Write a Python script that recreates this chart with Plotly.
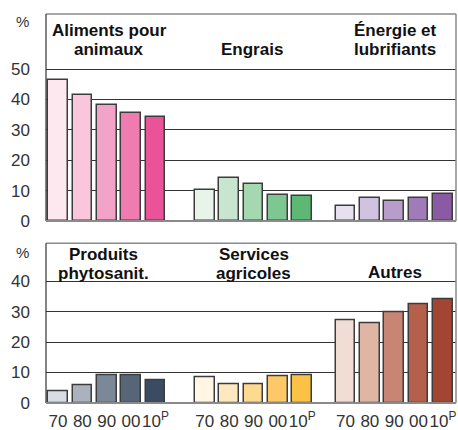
import plotly.graph_objects as go

years = ["70", "80", "90", "00", "10<sup>P</sup>"]

top_groups = [["Aliments pour", "animaux"], ["Engrais"], ["Énergie et", "lubrifiants"]]
aliments = [46.3, 41.6, 38.0, 35.4, 34.2]
engrais = [10.3, 14.3, 12.3, 8.4, 8.1]
energie = [5.1, 7.5, 6.5, 7.5, 8.8]

bottom_groups = [["Produits", "phytosanit."], ["Services", "agricoles"], ["Autres"]]
produits = [3.7, 5.7, 9.2, 9.2, 7.4]
services = [8.5, 6.0, 6.1, 8.7, 9.2]
autres = [27.2, 26.0, 29.7, 32.4, 33.9]

top_ticks = [0, 10, 20, 30, 40, 50]
bottom_ticks = [0, 10, 20, 30, 40]

colors_top = [
    ["#fde8f0", "#f9c6dc", "#f4a3c8", "#f07bb0", "#eb5399"],
    ["#e8f4ea", "#c8e6cf", "#a5d7b0", "#7ec792", "#5cb874"],
    ["#e6e0ef", "#cfc3df", "#b89dcb", "#9f7bb9", "#8a5aa5"],
]
colors_bottom = [
    ["#d7dde4", "#a9b2be", "#7b8898", "#566678", "#3b4c62"],
    ["#fff6e3", "#ffe8bf", "#ffd990", "#fdc968", "#fcc245"],
    ["#f1ddd3", "#dfb6a4", "#c98573", "#b4604b", "#a44432"],
]

# layout constants (pixel-like x units)
GROUP_X0 = [58.0, 204.8, 345.5]
PITCH = 24.35
BAR_W = 19.7
FONT = "Liberation Sans"

fig = go.Figure()

def add_panel(series_list, colors, xa, ya):
    for g, vals in enumerate(series_list):
        xs = [GROUP_X0[g] + i * PITCH for i in range(len(vals))]
        fig.add_trace(go.Bar(
            x=xs, y=vals, width=BAR_W, xaxis=xa, yaxis=ya,
            marker=dict(color=colors[g], line=dict(color="#3c3c3c", width=1.5)),
            showlegend=False, hoverinfo="y",
        ))

add_panel([aliments, engrais, energie], colors_top, "x", "y")
add_panel([produits, services, autres], colors_bottom, "x2", "y2")

tick_x = [GROUP_X0[g] + i * PITCH for g in range(3) for i in range(5)]
tick_t = years * 3

W, H = 458, 430
x_dom = [46 / W, 456 / W]
top_dom = [(H - 221) / H, (H - 14) / H]
bot_dom = [(H - 403) / H, (H - 243.3) / H]

common = dict(automargin=False, fixedrange=True)
fig.update_layout(
    width=W, height=H, margin=dict(l=0, r=0, t=0, b=0, autoexpand=False),
    paper_bgcolor="white", plot_bgcolor="white",
    font=dict(family=FONT, color="#222"),
    bargap=0,
    xaxis=dict(domain=x_dom, range=[46, 456], showgrid=False, zeroline=False,
               showticklabels=False, anchor="y", **common),
    yaxis=dict(domain=top_dom, range=[0, 68.1], tickvals=top_ticks,
               showgrid=True, gridcolor="#333", gridwidth=1, zeroline=False,
               tickfont=dict(size=17, color="#333"), ticklabelstandoff=15,
               anchor="x", **common),
    xaxis2=dict(domain=x_dom, range=[46, 456], showgrid=False, zeroline=False,
                tickvals=tick_x, ticktext=tick_t, tickangle=0,
                tickfont=dict(size=17, color="#333"),
                ticklabelstandoff=6, anchor="y2", **common),
    yaxis2=dict(domain=bot_dom, range=[0, 52.4], tickvals=bottom_ticks,
                showgrid=True, gridcolor="#333", gridwidth=1, zeroline=False,
                tickfont=dict(size=17, color="#333"), ticklabelstandoff=15,
                anchor="x2", **common),
)

shapes = []
for xr, yr in [("x domain", "y domain"), ("x2 domain", "y2 domain")]:
    shapes.append(dict(type="line", xref=xr, yref=yr, x0=0, x1=1, y0=1, y1=1,
                       line=dict(color="#8a8a8a", width=1.5), layer="above"))
    shapes.append(dict(type="line", xref=xr, yref=yr, x0=1, x1=1, y0=0, y1=1,
                       line=dict(color="#8a8a8a", width=1.5), layer="above"))
    shapes.append(dict(type="line", xref=xr, yref=yr, x0=0, x1=0, y0=0, y1=1,
                       line=dict(color="#333", width=1.2), layer="above"))
    shapes.append(dict(type="line", xref=xr, yref=yr, x0=0, x1=1, y0=0, y1=0,
                       line=dict(color="#8a8a8a", width=2), layer="above"))
fig.update_layout(shapes=shapes)

ann = []
def add_titles(groups, cxs, y_lines, bottom_line_y):
    for g, lines in enumerate(groups):
        n = len(lines)
        for k, line in enumerate(lines):
            yy = y_lines[k] if n == 2 else bottom_line_y
            ann.append(dict(x=cxs[g] / W, y=1 - yy / H, xref="paper", yref="paper",
                            text="<b>" + line + "</b>", showarrow=False,
                            xanchor="center", yanchor="middle",
                            font=dict(size=17, family=FONT, color="#111")))

add_titles(top_groups, [109, 252, 395], [31, 49], 49)
add_titles(bottom_groups, [103, 254, 395], [254, 273], 272)

for yy in [22, 253]:
    ann.append(dict(x=22 / W, y=1 - yy / H, xref="paper", yref="paper", text="%",
                    showarrow=False, xanchor="center", yanchor="middle",
                    font=dict(size=15, family=FONT, color="#333")))
fig.update_layout(annotations=ann)

fig.write_html("out.html", config={"displayModeBar": False},
               post_script="document.body.style.margin='0';document.body.style.padding='0';")
